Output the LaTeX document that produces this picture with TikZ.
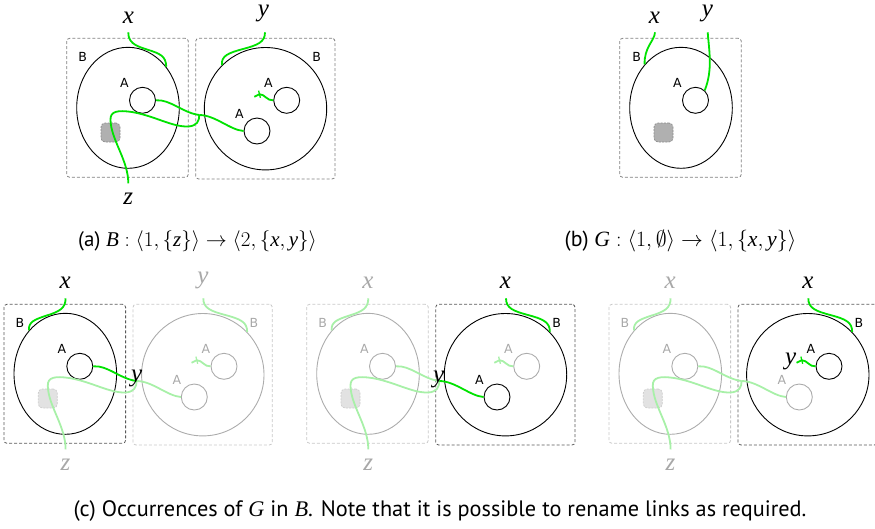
\RequirePackage{fix-cm}
\documentclass[tikz,border=0pt]{standalone}
\usepackage{fontspec}
\setmainfont{Liberation Serif}
\newfontfamily\lblfont{DejaVu Sans}
\newfontfamily\capfont{PT Sans}
\usetikzlibrary{shapes.geometric}
\definecolor{wire}{RGB}{0,226,0}
\definecolor{fwire}{RGB}{168,240,168}
\definecolor{fline}{RGB}{172,172,172}
\definecolor{ftext}{RGB}{168,168,168}
\definecolor{fbox}{RGB}{200,200,200}
\definecolor{sitefill}{RGB}{176,176,176}
\definecolor{sitedraw}{RGB}{140,140,140}
\definecolor{fsitefill}{RGB}{226,226,226}
\definecolor{fsitedraw}{RGB}{205,205,205}
\newcommand\partOn[1]{\colorlet{#1l}{black}\colorlet{#1t}{black}\colorlet{#1g}{wire}\colorlet{#1b}{black!65}}
\newcommand\partOff[1]{\colorlet{#1l}{fline}\colorlet{#1t}{ftext}\colorlet{#1g}{fwire}\colorlet{#1b}{fbox}}
\newcommand\siteOn{\colorlet{Sf}{sitefill}\colorlet{Sd}{sitedraw}}
\newcommand\siteOff{\colorlet{Sf}{fsitefill}\colorlet{Sd}{fsitedraw}}
\newcommand\mv[1]{\mbox{\rmfamily\itshape #1}}
\tikzset{
  bbox/.style={draw=#1, dash pattern=on 3pt off 2pt, rounded corners=3pt, line width=0.8pt, inner sep=0pt},
  ell/.style={ellipse, draw=#1, line width=0.9pt, inner sep=0pt, minimum width=102.6pt, minimum height=121pt},
  rc/.style={circle, draw=#1, line width=0.9pt, inner sep=0pt, minimum size=122.4pt},
  ac/.style={circle, draw=#1, line width=0.9pt, inner sep=0pt, minimum size=26pt},
  sitebox/.style={draw=Sd, fill=Sf, dash pattern=on 2pt off 1.2pt, line width=0.7pt, rounded corners=4pt, minimum size=19pt, inner sep=0pt},
  lbl/.style={font=\lblfont\fontsize{12.5}{14}\selectfont, text=#1, inner sep=0pt},
  mlbl/.style={font=\rmfamily\itshape\fontsize{25}{30}\selectfont, text=#1, inner sep=0pt},
  wr/.style={draw=#1, line width=1.8pt},
  captext/.style={font=\capfont\fontsize{21}{25}\selectfont, inner sep=0pt, anchor=base}
}
% common body of the two-region bigraph B (coordinates of panel (a))
\newcommand\bgcore{%
  \node[bbox=Lb, minimum width=121.6pt, minimum height=139pt] (LB) at (127.5,107.8) {};
  \node[bbox=Rb, minimum width=139.3pt, minimum height=140.7pt] (RB) at (265.35,108.65) {};
  \node[ell=Ll] (L) at (128,107.8) {};
  \node[rc=Rl] (R) at (265.5,108.7) {};
  \node[ac=Aal] (A1) at (142.5,100.3) {};
  \node[ac=Abl] (A2) at (286.7,100.3) {};
  \node[ac=Acl] (A3) at (257,131) {};
  \node[sitebox] (S) at (110.5,132.5) {};
  \node[lbl=Lt] (BL) at (82.7,57.3) {B};
  \node[lbl=Rt] (BR) at (316.7,57.3) {B};
  \node[lbl=Aat] (LA1) at (124.5,82.7) {A};
  \node[lbl=Abt] (LA2) at (268.5,82.7) {A};
  \node[lbl=Act] (LA3) at (239.5,113.5) {A};
  \coordinate (J) at (199.3,115);
  \coordinate (zt) at (128.3,183.3);
  \node[mlbl=Zt, anchor=north] (zl) at (128.3,192.8) {z};
  \draw[wr=Zg] (zt) .. controls (128.3,160) and (111,140) .. (110.5,120)
     .. controls (110,111) and (118,110) .. (132,112)
     .. controls (155,116) and (172,127) .. (188,126.5)
     .. controls (197,126) and (199.3,121) .. (J);
  \draw[wr=Kag] (A1.east) .. controls (170,99) and (183,113) .. (J);
  \draw[wr=Kcg] (J) .. controls (215,115) and (230,130) .. (A3.west);
  \coordinate (Ie) at (259.5,94.2);
  \coordinate (Iend) at (254.3,96.8);
  \draw[wr=Ig] (A2.west) .. controls (267,101) and (265,94.2) .. (Ie) -- (Iend);
  \draw[wr=Ig, line width=1.3pt] (Ie) +(-0.9,-3.6) -- +(0.9,3.6);
}
% top wires as in the occurrences (c)
\newcommand\ctop[1]{%
  \coordinate (xt) at (128.3,32.3);
  \node[mlbl=Lt, anchor=south] (xl) at (127.8,22.8) {x};
  \draw[wr=Lg] (xt) .. controls (128.3,42) and (122.5,45.5) .. (109.5,49.5)
     .. controls (97,53.5) and (91,56) .. (L.130);
  \coordinate (yt) at (266,32.3);
  \node[mlbl=Rt, anchor=south] (tl) at (265.5,22.8) {#1};
  \draw[wr=Rg] (yt) .. controls (266,42) and (273,45) .. (288,49)
     .. controls (303,53) and (310,56) .. (R.44.5);
}
\begin{document}
\begin{tikzpicture}[x=1pt,y=-1pt]
\useasboundingbox (0,0) rectangle (875,528);
% ---------------- (a)
\begin{scope}[name prefix=a-]
  \partOn{L}\partOn{R}\partOn{Aa}\partOn{Ab}\partOn{Ac}\partOn{Ka}\partOn{Kc}\partOn{I}\partOn{Z}\siteOn
  \colorlet{Lb}{black!50}\colorlet{Rb}{black!50}
  \bgcore
  \coordinate (xt) at (128.3,32.3);
  \node[mlbl=black, anchor=south] (xl) at (128.3,23.5) {x};
  \draw[wr=wire] (xt) .. controls (128.3,42) and (134,45.5) .. (147,49.5)
     .. controls (160,53.5) and (166,56) .. (L.47);
  \coordinate (yt) at (265,32.3);
  \node[mlbl=black, anchor=south] (yl) at (263.5,22.5) {y};
  \draw[wr=wire] (yt) .. controls (265,42) and (258,45) .. (243,49)
     .. controls (228,53) and (221,56) .. (R.135.5);
\end{scope}
% ---------------- (b)
\begin{scope}[shift={(553,0)}, name prefix=b-]
  \siteOn
  \node[bbox=black!50, minimum width=121.6pt, minimum height=139pt] (GB) at (127.5,107.8) {};
  \node[ell=black] (L) at (128,107.8) {};
  \node[ac=black] (A1) at (142.5,100.3) {};
  \node[sitebox] (S) at (110.5,132.5) {};
  \node[lbl=black] (BL) at (83.7,57.3) {B};
  \node[lbl=black] (LA1) at (124.5,82.7) {A};
  \coordinate (xt) at (102,32.3);
  \node[mlbl=black, anchor=south] (xl) at (101.3,23.5) {x};
  \draw[wr=wire] (xt) .. controls (101.5,41) and (91,47) .. (L.130.7);
  \coordinate (yt) at (154.7,32.3);
  \node[mlbl=black, anchor=south] (yl) at (154.3,22.5) {y};
  \draw[wr=wire] (yt) .. controls (156,50) and (160,70) .. (A1.47.5);
\end{scope}
% ---------------- captions (a), (b)
\node[captext] (capa) at (197.5,246) {(a) $\mv{B} : \langle 1, \{\mv{z}\}\rangle \rightarrow \langle 2, \{\mv{x}, \mv{y}\}\rangle$};
\node[captext, font=\capfont\fontsize{21.8}{26}\selectfont] (capb) at (680.5,246) {(b) $\mv{G} : \langle 1, \emptyset\rangle \rightarrow \langle 1, \{\mv{x}, \mv{y}\}\rangle$};
% ---------------- (c) occurrence 1
\begin{scope}[shift={(-62.7,266)}, name prefix=c1-]
  \partOn{L}\partOff{R}\partOn{Aa}\partOff{Ab}\partOff{Ac}\partOn{Ka}\partOff{Kc}\partOff{I}\partOff{Z}\siteOff
  \bgcore
  \ctop{y}
  \node[mlbl=black] (yo) at (199.4,112.5) {y};
\end{scope}
% ---------------- (c) occurrence 2
\begin{scope}[shift={(240,266)}, name prefix=c2-]
  \partOff{L}\partOn{R}\partOff{Aa}\partOff{Ab}\partOn{Ac}\partOff{Ka}\partOn{Kc}\partOff{I}\partOff{Z}\siteOff
  \bgcore
  \ctop{x}
  \node[mlbl=black] (yo) at (198.7,113.5) {y};
\end{scope}
% ---------------- (c) occurrence 3
\begin{scope}[shift={(542.3,266)}, name prefix=c3-]
  \partOff{L}\partOn{R}\partOff{Aa}\partOn{Ab}\partOff{Ac}\partOff{Ka}\partOff{Kc}\partOn{I}\partOff{Z}\siteOff
  \bgcore
  \ctop{x}
  \node[mlbl=black] (yo) at (248.3,95.5) {y};
\end{scope}
\node[captext, font=\capfont\fontsize{22.3}{26}\selectfont] (capc) at (440,516.7) {(c) Occurrences of \mv{G} in \mv{B}. Note that it is possible to rename links as required.};
\end{tikzpicture}
\end{document}
